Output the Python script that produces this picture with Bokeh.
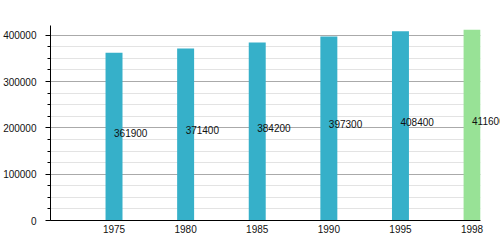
from bokeh.plotting import figure
from bokeh.models import (ColumnDataSource, Range1d, FixedTicker, SingleIntervalTicker,
                          BasicTickFormatter, LabelSet, BoxAnnotation)
from bokeh.core.properties import value
from bokeh.embed import file_html
from bokeh.resources import INLINE

years = ["1975", "1980", "1985", "1990", "1995", "1998"]
values = [361900, 371400, 384200, 397300, 408400, 411600]
bar_colors = ["#36b0c9", "#36b0c9", "#36b0c9", "#36b0c9", "#36b0c9", "#98e296"]

idx = list(range(len(years)))
src = ColumnDataSource(dict(
    x=idx,
    top=values,
    half=[v / 2 for v in values],
    label=[str(v) for v in values],
    color=bar_colors,
))

X0, X1, XEND = -0.887, 5.118, 5.397

p = figure(width=500, height=250, output_backend="svg", toolbar_location=None,
           x_range=Range1d(X0, XEND), y_range=Range1d(0, 421000),
           min_border_left=50, min_border_right=0, min_border_top=25,
           min_border_bottom=30)
p.outline_line_color = None
p.background_fill_color = "white"
p.border_fill_color = "white"

p.vbar(x="x", top="top", width=0.237, color="color", source=src, line_color=None)

# blank strip right of the plotting area (grid ends there in the original)
p.add_layout(BoxAnnotation(left=X1, fill_color="white", fill_alpha=1.0, line_color=None))

labels = LabelSet(x="x", y="half", text="label", source=src,
                  text_font_size=value("10px"), text_font=value("Liberation Sans"),
                  text_color="#111111", text_align="left", text_baseline="alphabetic")
p.add_layout(labels)

# x axis
p.xaxis.bounds = (X0, X1)
p.xaxis.ticker = FixedTicker(ticks=idx)
p.xaxis.major_label_overrides = {i: y for i, y in zip(idx, years)}
p.xaxis.major_tick_out = 0
p.xaxis.major_tick_in = 0
p.xaxis.minor_tick_out = 0
p.xaxis.minor_tick_in = 0
p.xaxis.axis_line_color = "black"
p.xaxis.major_label_text_font = "Liberation Sans"
p.xaxis.major_label_text_font_size = "10px"
p.xaxis.major_label_text_color = "#111111"
p.xaxis.major_label_standoff = 4
p.xgrid.grid_line_color = None

# y axis
yt = SingleIntervalTicker(interval=100000, num_minor_ticks=4)
p.yaxis.ticker = yt
p.ygrid.ticker = yt
p.yaxis.formatter = BasicTickFormatter(use_scientific=False)
p.yaxis.major_tick_out = 5
p.yaxis.major_tick_in = 0
p.yaxis.minor_tick_out = 3
p.yaxis.minor_tick_in = 0
p.yaxis.axis_line_color = "black"
p.yaxis.major_tick_line_color = "black"
p.yaxis.minor_tick_line_color = "black"
p.yaxis.major_label_text_font = "Liberation Sans"
p.yaxis.major_label_text_font_size = "10px"
p.yaxis.major_label_text_color = "#111111"
p.yaxis.major_label_standoff = 9
p.ygrid.grid_line_color = "#aaaaaa"
p.ygrid.minor_grid_line_color = "#e3e3e3"

open("out.html", "w").write(file_html(p, INLINE))
